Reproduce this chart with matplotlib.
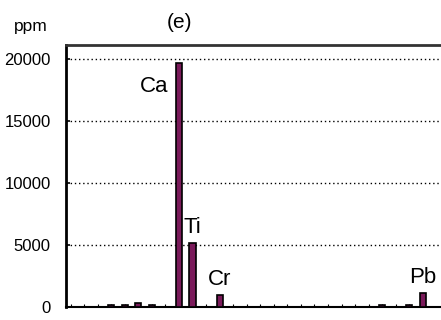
import numpy as np
import matplotlib
matplotlib.use("Agg")
import matplotlib.pyplot as plt

plt.rcParams['font.family'] = ['Liberation Sans', 'DejaVu Sans']

# element channels along the x axis, concentrations in ppm
elements = ["Na", "Mg", "Al", "Si", "P", "S", "Cl", "K", "Ca", "Ti", "V", "Cr", "Mn",
            "Fe", "Co", "Ni", "Cu", "Zn", "Ga", "Ge", "As", "Se", "Br", "Rb", "Sr", "Y", "Pb"]
ppm = [0, 0, 0, 150, 150, 350, 150, 0, 19700, 5150, 0, 1000, 0,
       0, 0, 0, 0, 0, 0, 0, 0, 0, 0, 150, 0, 150, 1100]
shown = ["Ca", "Ti", "Cr", "Pb"]
yticks = [0, 5000, 10000, 15000, 20000]

fig = plt.figure(figsize=(4.41, 3.2), dpi=100)
ax = fig.add_axes([66 / 441, 13 / 320, 1 - 66 / 441, 262 / 320])

x = np.arange(len(elements))
ax.bar(x, ppm, width=0.45, color="#7a1a5a", edgecolor="black", linewidth=1.2, zorder=3)

ax.set_xlim(-0.34, 27.34)
ax.set_ylim(0, 21130)
ax.set_yticks(yticks)
ax.set_yticklabels([str(v) for v in yticks], fontsize=12)
ax.set_xticks(x)
ax.set_xticklabels([])
ax.tick_params(axis="y", direction="in", length=3, width=1.2, pad=11)
ax.tick_params(axis="x", direction="in", length=2, width=0.8)

for v in yticks[1:]:
    ax.axhline(v, color="black", linestyle=(0, (1, 2)), linewidth=1, zorder=1)

ax.spines["right"].set_visible(False)
ax.spines["left"].set_linewidth(2)
ax.spines["bottom"].set_linewidth(1.5)
ax.spines["top"].set_linewidth(2)
ax.spines["top"].set_color("#333333")

for name in shown:
    i = elements.index(name)
    if name == "Ca":
        ax.annotate(name, (i, ppm[i]), xytext=(-11, -29), textcoords="offset pixels",
                    ha="right", va="baseline", fontsize=16)
    else:
        ax.annotate(name, (i, ppm[i]), xytext=(0, 10), textcoords="offset pixels",
                    ha="center", va="baseline", fontsize=16)

fig.text(31 / 441, 1 - 31 / 320, "ppm", ha="center", va="baseline", fontsize=12.5)
fig.text(179 / 441, 1 - 23 / 320, "(e)", ha="center", va="center", fontsize=15)

fig.savefig("out.png", dpi=100)
